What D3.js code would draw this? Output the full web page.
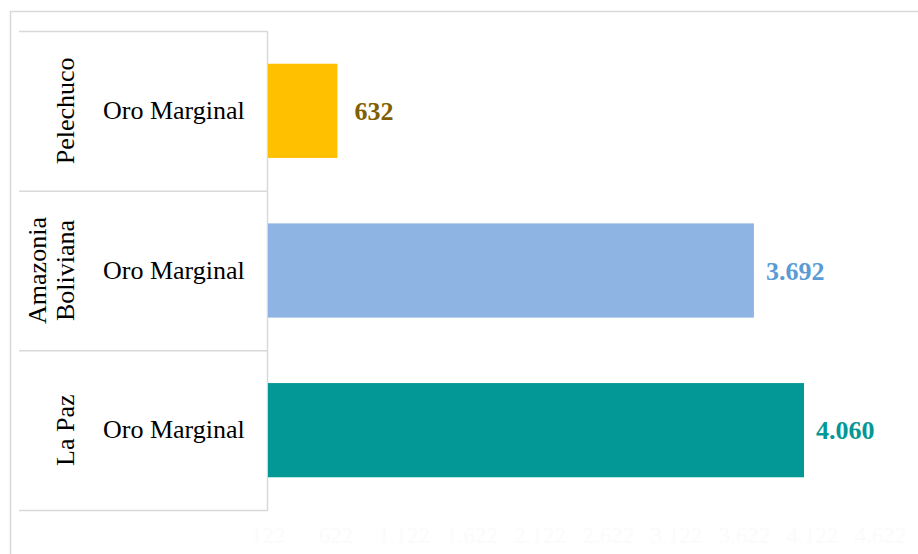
<!DOCTYPE html>
<html>
<head>
<meta charset="utf-8">
<script src="https://cdn.jsdelivr.net/npm/d3@7"></script>
<style>
  body { margin: 0; background: #ffffff; }
  svg { display: block; font-family: "Liberation Serif", "Times New Roman", serif; }
</style>
</head>
<body>
<div id="chart"></div>
<script>
// data
var regions = ["Pelechuco", "Amazonia Boliviana", "La Paz"];
var regionLines = [["Pelechuco"], ["Amazonia", "Boliviana"], ["La Paz"]];
var products = ["Oro Marginal", "Oro Marginal", "Oro Marginal"];
var values = [632, 3692, 4060];
var barColors = ["#ffc000", "#8db4e2", "#039895"];
var labelColors = ["#7f6000", "#5b9bd5", "#039895"];
// nearly invisible axis ticks at the bottom
var tickValues = [122, 622, 1122, 1622, 2122, 2622, 3122, 3622, 4122, 4622];

var svgWidth = 918, svgHeight = 554;

var svg = d3.select("#chart").append("svg")
  .attr("width", svgWidth)
  .attr("height", svgHeight);

// outer frame (runs off the right and bottom edge)
svg.append("path")
  .attr("d", "M10.5,560 V11.5 H930")
  .attr("fill", "none")
  .attr("stroke", "#d9d9d9")
  .attr("stroke-width", 1.5);

var tableLeft = 19, tableRight = 267, tableTop = 31, tableBottom = 510;

var rowScale = d3.scaleBand()
  .domain(regions)
  .range([tableTop, tableBottom]);

var yScale = d3.scaleBand()
  .domain(regions)
  .range([tableTop, tableBottom])
  .paddingInner(0.41)
  .paddingOuter(0.205);

var xScale = d3.scaleLinear()
  .domain([122, 4700])
  .range([268, 268 + (4700 - 122) * 0.13611]);

// table grid
var grid = svg.append("g");
var rowEdges = regions.map(function(r) { return rowScale(r); }).concat([tableBottom]);
grid.selectAll("line.h")
  .data(rowEdges)
  .enter()
  .append("line")
  .attr("x1", tableLeft)
  .attr("x2", tableRight)
  .attr("y1", d => d + 0.5)
  .attr("y2", d => d + 0.5)
  .attr("stroke", "#d9d9d9")
  .attr("stroke-width", 1.5);
grid.append("line")
  .attr("x1", tableRight + 0.5)
  .attr("x2", tableRight + 0.5)
  .attr("y1", tableTop)
  .attr("y2", tableBottom + 1)
  .attr("stroke", "#d9d9d9")
  .attr("stroke-width", 1.5);

// bars
svg.selectAll("rect.bar")
  .data(values)
  .enter()
  .append("rect")
  .attr("class", "bar")
  .attr("x", xScale.range()[0])
  .attr("y", (d, i) => yScale(regions[i]))
  .attr("width", d => xScale(d) - xScale.range()[0])
  .attr("height", yScale.bandwidth())
  .attr("fill", (d, i) => barColors[i]);

// value labels
var fmt = d3.formatLocale({ decimal: ",", thousands: ".", grouping: [3], currency: ["", ""] }).format(",d");
svg.selectAll("text.value")
  .data(values)
  .enter()
  .append("text")
  .attr("class", "value")
  .attr("x", (d, i) => xScale(d) + (i === 0 ? 17 : 12))
  .attr("y", (d, i) => yScale(regions[i]) + yScale.bandwidth() / 2 + 9)
  .attr("fill", (d, i) => labelColors[i])
  .attr("font-weight", "bold")
  .attr("font-size", 26)
  .text(d => fmt(d));

// product column
svg.selectAll("text.product")
  .data(products)
  .enter()
  .append("text")
  .attr("class", "product")
  .attr("x", 103)
  .attr("y", (d, i) => rowScale(regions[i]) + rowScale.bandwidth() / 2 + 8)
  .attr("font-size", 26)
  .attr("fill", "#000")
  .text(d => d);

// region column, rotated
regionLines.forEach(function(lines, i) {
  var cy = rowScale(regions[i]) + rowScale.bandwidth() / 2;
  var g = svg.append("g");
  lines.forEach(function(line, j) {
    var bx = 74 - (lines.length - 1 - j) * 28;
    g.append("text")
      .attr("transform", `translate(${bx}, ${cy}) rotate(-90)`)
      .attr("text-anchor", "middle")
      .attr("font-size", 26)
      .attr("fill", "#000")
      .text(line);
  });
});

// faint x axis labels
svg.selectAll("text.tick")
  .data(tickValues)
  .enter()
  .append("text")
  .attr("class", "tick")
  .attr("x", d => xScale(d))
  .attr("y", 543)
  .attr("text-anchor", "middle")
  .attr("font-size", 23)
  .attr("fill", "#fbfbfb")
  .text(d => fmt(d));
</script>
</body>
</html>
